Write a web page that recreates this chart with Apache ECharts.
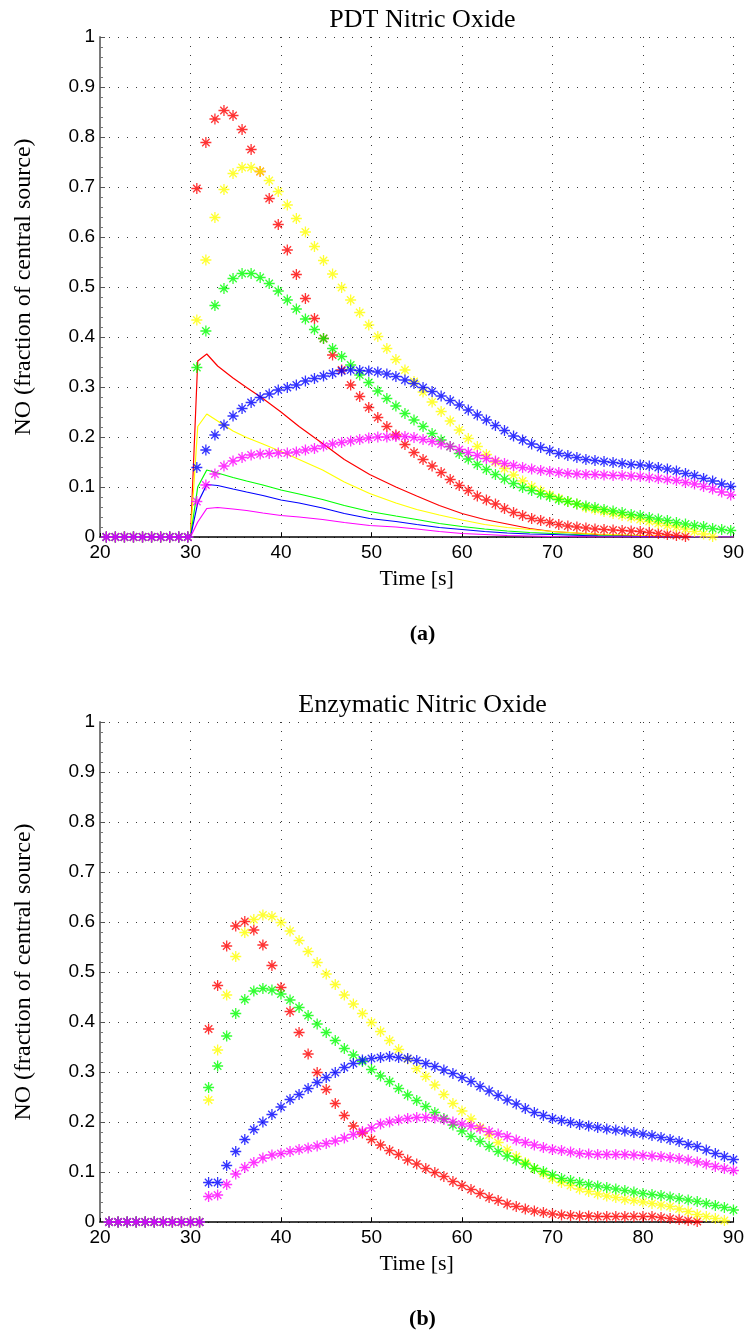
<!DOCTYPE html>
<html>
<head>
<meta charset="utf-8">
<script src="https://cdn.jsdelivr.net/npm/echarts@6/dist/echarts.min.js"></script>
<style>
  html, body { margin: 0; padding: 0; background: #ffffff; }
  #chart { width: 747px; height: 1332px; }
</style>
</head>
<body>
<div id="chart"></div>
<script>
// ---------- (a) PDT nitric oxide: sample times of the starred curves ----------
const pdtTime = [
  20.7, 21.7, 22.7, 23.7, 24.7, 25.7, 26.7, 27.7, 28.7, 29.7,
  30.7, 31.7, 32.7, 33.7, 34.7, 35.7, 36.7, 37.7, 38.7, 39.7,
  40.7, 41.7, 42.7, 43.7, 44.7, 45.7, 46.7, 47.7, 48.7, 49.7,
  50.7, 51.7, 52.7, 53.7, 54.7, 55.7, 56.7, 57.7, 58.7, 59.7,
  60.7, 61.7, 62.7, 63.7, 64.7, 65.7, 66.7, 67.7, 68.7, 69.7,
  70.7, 71.7, 72.7, 73.7, 74.7, 75.7, 76.7, 77.7, 78.7, 79.7,
  80.7, 81.7, 82.7, 83.7, 84.7, 85.7, 86.7, 87.7, 88.7, 89.7
];
const pdtRed = [
  0, 0, 0, 0, 0, 0, 0, 0, 0, 0,
  0.697, 0.789, 0.836, 0.853, 0.843, 0.815, 0.775, 0.731, 0.677, 0.625,
  0.574, 0.525, 0.477, 0.437, 0.397, 0.364, 0.334, 0.304, 0.281, 0.259,
  0.239, 0.221, 0.204, 0.185, 0.169, 0.155, 0.142, 0.129, 0.115, 0.103,
  0.093, 0.082, 0.074, 0.066, 0.057, 0.049, 0.043, 0.037, 0.033, 0.029,
  0.025, 0.022, 0.020, 0.018, 0.016, 0.015, 0.014, 0.013, 0.012, 0.011,
  0.009, 0.007, 0.005, 0.003, 0.001
];
const pdtYellow = [
  0, 0, 0, 0, 0, 0, 0, 0, 0, 0,
  0.434, 0.554, 0.639, 0.695, 0.727, 0.739, 0.739, 0.731, 0.713, 0.691,
  0.664, 0.637, 0.610, 0.581, 0.553, 0.526, 0.499, 0.474, 0.449, 0.424,
  0.401, 0.377, 0.355, 0.334, 0.311, 0.290, 0.270, 0.251, 0.232, 0.214,
  0.197, 0.181, 0.165, 0.150, 0.137, 0.124, 0.112, 0.101, 0.092, 0.084,
  0.077, 0.071, 0.066, 0.059, 0.055, 0.051, 0.047, 0.043, 0.039, 0.035,
  0.031, 0.027, 0.023, 0.020, 0.016, 0.011, 0.006, 0.001
];
const pdtGreen = [
  0, 0, 0, 0, 0, 0, 0, 0, 0, 0,
  0.339, 0.412, 0.463, 0.497, 0.517, 0.527, 0.527, 0.519, 0.507, 0.492,
  0.474, 0.456, 0.436, 0.415, 0.397, 0.377, 0.361, 0.344, 0.324, 0.309,
  0.292, 0.277, 0.262, 0.247, 0.234, 0.221, 0.207, 0.194, 0.181, 0.167,
  0.156, 0.145, 0.135, 0.125, 0.116, 0.107, 0.099, 0.093, 0.086, 0.081,
  0.075, 0.071, 0.066, 0.062, 0.059, 0.055, 0.052, 0.049, 0.045, 0.043,
  0.039, 0.036, 0.033, 0.029, 0.026, 0.023, 0.021, 0.017, 0.015, 0.013
];
const pdtBlue = [
  0, 0, 0, 0, 0, 0, 0, 0, 0, 0,
  0.139, 0.174, 0.204, 0.224, 0.242, 0.257, 0.269, 0.279, 0.286, 0.294,
  0.299, 0.304, 0.312, 0.317, 0.322, 0.327, 0.332, 0.334, 0.333, 0.332,
  0.330, 0.326, 0.321, 0.314, 0.307, 0.299, 0.291, 0.282, 0.273, 0.264,
  0.254, 0.244, 0.234, 0.223, 0.213, 0.202, 0.194, 0.186, 0.179, 0.173,
  0.167, 0.163, 0.159, 0.155, 0.153, 0.151, 0.149, 0.147, 0.145, 0.144,
  0.142, 0.139, 0.136, 0.132, 0.127, 0.123, 0.117, 0.112, 0.106, 0.101
];
const pdtMagenta = [
  0, 0, 0, 0, 0, 0, 0, 0, 0, 0,
  0.071, 0.104, 0.126, 0.142, 0.152, 0.159, 0.164, 0.166, 0.167, 0.168,
  0.168, 0.170, 0.174, 0.177, 0.182, 0.186, 0.189, 0.192, 0.195, 0.198,
  0.200, 0.200, 0.201, 0.201, 0.199, 0.195, 0.191, 0.186, 0.181, 0.175,
  0.169, 0.163, 0.157, 0.152, 0.147, 0.143, 0.139, 0.136, 0.133, 0.131,
  0.129, 0.127, 0.126, 0.125, 0.125, 0.124, 0.123, 0.123, 0.122, 0.121,
  0.119, 0.117, 0.115, 0.113, 0.109, 0.106, 0.101, 0.096, 0.090, 0.084
];

// ---------- (a) solid curves (no markers) ----------
const pdtLineTime = [30, 30.8, 31.8, 33, 34.7, 36.2, 38, 40, 42, 44.6, 47, 49.8,
                     52.7, 55, 57.5, 60, 62.5, 65, 67.5, 70, 75, 80, 85, 90];
const pdtLineRed = [0, 0.352, 0.366, 0.342, 0.318, 0.299, 0.277, 0.250, 0.221, 0.187, 0.155, 0.125,
                    0.100, 0.082, 0.063, 0.047, 0.035, 0.026, 0.017, 0.011, 0.005, 0.002, 0.001, 0];
const pdtLineYellow = [0, 0.221, 0.246, 0.232, 0.212, 0.199, 0.186, 0.171, 0.155, 0.134, 0.110, 0.087,
                       0.068, 0.055, 0.044, 0.034, 0.025, 0.019, 0.015, 0.011, 0.006, 0.003, 0.001, 0];
const pdtLineGreen = [0, 0.100, 0.134, 0.128, 0.119, 0.112, 0.104, 0.094, 0.086, 0.075, 0.063, 0.051,
                      0.042, 0.035, 0.027, 0.021, 0.016, 0.012, 0.009, 0.007, 0.003, 0.001, 0, 0];
const pdtLineBlue = [0, 0.068, 0.105, 0.103, 0.096, 0.090, 0.083, 0.074, 0.068, 0.058, 0.047, 0.037,
                     0.031, 0.025, 0.019, 0.015, 0.011, 0.008, 0.006, 0.005, 0.002, 0.001, 0, 0];
const pdtLineMagenta = [0, 0.030, 0.057, 0.059, 0.056, 0.053, 0.048, 0.043, 0.040, 0.035, 0.029, 0.023,
                        0.020, 0.016, 0.011, 0.007, 0.005, 0.003, 0.002, 0.001, 0, 0, 0, 0];

// ---------- (b) enzymatic nitric oxide ----------
const enzTime = [
  21, 22, 23, 24, 25, 26, 27, 28, 29, 30, 31,
  32, 33, 34, 35, 36, 37, 38, 39, 40, 41,
  42, 43, 44, 45, 46, 47, 48, 49, 50, 51,
  52, 53, 54, 55, 56, 57, 58, 59, 60, 61,
  62, 63, 64, 65, 66, 67, 68, 69, 70, 71,
  72, 73, 74, 75, 76, 77, 78, 79, 80, 81,
  82, 83, 84, 85, 86, 87, 88, 89, 90
];
const enzRed = [
  0, 0, 0, 0, 0, 0, 0, 0, 0, 0, 0,
  0.386, 0.473, 0.552, 0.592, 0.601, 0.584, 0.554, 0.513, 0.469, 0.421,
  0.379, 0.336, 0.299, 0.265, 0.237, 0.213, 0.192, 0.178, 0.165, 0.154,
  0.143, 0.135, 0.124, 0.116, 0.107, 0.099, 0.091, 0.081, 0.073, 0.065,
  0.057, 0.049, 0.043, 0.036, 0.031, 0.026, 0.022, 0.019, 0.016, 0.014,
  0.013, 0.012, 0.012, 0.011, 0.011, 0.011, 0.011, 0.011, 0.011, 0.011,
  0.009, 0.007, 0.005, 0.003, 0.001
];
const enzYellow = [
  0, 0, 0, 0, 0, 0, 0, 0, 0, 0, 0,
  0.244, 0.344, 0.454, 0.531, 0.579, 0.605, 0.614, 0.611, 0.599, 0.582,
  0.563, 0.541, 0.519, 0.496, 0.475, 0.454, 0.436, 0.417, 0.399, 0.381,
  0.363, 0.345, 0.326, 0.307, 0.291, 0.274, 0.255, 0.237, 0.222, 0.206,
  0.189, 0.174, 0.159, 0.144, 0.131, 0.119, 0.107, 0.097, 0.087, 0.079,
  0.073, 0.066, 0.061, 0.056, 0.052, 0.049, 0.045, 0.043, 0.040, 0.037,
  0.034, 0.031, 0.026, 0.021, 0.015, 0.011, 0.007, 0.003
];
const enzGreen = [
  0, 0, 0, 0, 0, 0, 0, 0, 0, 0, 0,
  0.269, 0.312, 0.372, 0.417, 0.445, 0.462, 0.467, 0.464, 0.456, 0.444,
  0.429, 0.413, 0.396, 0.379, 0.363, 0.347, 0.334, 0.321, 0.305, 0.292,
  0.281, 0.267, 0.254, 0.243, 0.231, 0.219, 0.207, 0.194, 0.182, 0.171,
  0.161, 0.151, 0.141, 0.132, 0.124, 0.116, 0.107, 0.101, 0.094, 0.087,
  0.083, 0.079, 0.075, 0.072, 0.069, 0.066, 0.063, 0.060, 0.057, 0.055,
  0.053, 0.050, 0.047, 0.044, 0.041, 0.037, 0.033, 0.029, 0.024
];
const enzBlue = [
  0, 0, 0, 0, 0, 0, 0, 0, 0, 0, 0,
  0.079, 0.079, 0.113, 0.141, 0.165, 0.185, 0.200, 0.215, 0.230, 0.245,
  0.255, 0.267, 0.279, 0.289, 0.299, 0.309, 0.317, 0.324, 0.327, 0.329,
  0.331, 0.329, 0.327, 0.323, 0.317, 0.311, 0.304, 0.297, 0.289, 0.281,
  0.271, 0.262, 0.253, 0.244, 0.236, 0.227, 0.219, 0.213, 0.207, 0.203,
  0.199, 0.195, 0.192, 0.189, 0.186, 0.184, 0.182, 0.179, 0.176, 0.173,
  0.169, 0.165, 0.161, 0.155, 0.151, 0.144, 0.137, 0.131, 0.125
];
const enzMagenta = [
  0, 0, 0, 0, 0, 0, 0, 0, 0, 0, 0,
  0.051, 0.054, 0.075, 0.096, 0.109, 0.119, 0.128, 0.134, 0.137, 0.141,
  0.145, 0.148, 0.152, 0.157, 0.162, 0.168, 0.175, 0.181, 0.188, 0.196,
  0.200, 0.204, 0.207, 0.209, 0.209, 0.208, 0.205, 0.200, 0.196, 0.192,
  0.187, 0.181, 0.176, 0.171, 0.164, 0.159, 0.154, 0.149, 0.145, 0.143,
  0.140, 0.137, 0.136, 0.135, 0.135, 0.135, 0.135, 0.134, 0.133, 0.132,
  0.131, 0.129, 0.127, 0.124, 0.120, 0.116, 0.111, 0.107, 0.103
];

// ---------- axis ticks and labels ----------
const timeTicks = { min: 20, max: 90, step: 10 };
const noTicks = { min: 0, max: 1, step: 0.1 };
const panelTitles = ['PDT Nitric Oxide', 'Enzymatic Nitric Oxide'];
const panelTags = ['(a)', '(b)'];
const xName = 'Time [s]';
const yName = 'NO (fraction of central source)';

// ---------- styling ----------
const COLORS = { red: '#ff0000', yellow: '#ffff00', green: '#00ff00', blue: '#0000ff', magenta: '#ff00ff' };
// asterisk marker: vertical, horizontal and two diagonal strokes
const STAR = 'path://M5,0L5,10M0,5L10,5M1.6,1.6L8.4,8.4M1.6,8.4L8.4,1.6';
const SERIF = '"Liberation Serif", "DejaVu Serif", serif';
const SANS = '"Liberation Sans", Arial, Helvetica, sans-serif';
const PLOT_LEFT = 100, PLOT_RIGHT = 12, PLOT_H = 500;
const PANEL_TOP = [37, 722];
const PLOT_CX = PLOT_LEFT + (747 - PLOT_LEFT - PLOT_RIGHT) / 2;

function zip(xs, ys) {
  const out = [];
  const n = Math.min(xs.length, ys.length);
  for (let i = 0; i < n; i++) out.push([xs[i], ys[i]]);
  return out;
}

function starSeries(idx, xs, ys, color) {
  return {
    type: 'scatter', xAxisIndex: idx, yAxisIndex: idx,
    data: zip(xs, ys),
    symbol: STAR, symbolSize: 11,
    itemStyle: { color: 'rgba(0,0,0,0)', borderColor: color, borderWidth: 1.3 },
    silent: true, animation: false, z: 3
  };
}

function curveSeries(idx, xs, ys, color) {
  return {
    type: 'line', xAxisIndex: idx, yAxisIndex: idx,
    data: zip(xs, ys),
    showSymbol: false, symbol: 'none', smooth: false,
    lineStyle: { color: color, width: 1.2 },
    silent: true, animation: false, z: 2
  };
}

const gridLine = { show: true, lineStyle: { color: '#3a3a3a', width: 1, type: [1, 8] } };

function xAxis(idx) {
  return {
    type: 'value', gridIndex: idx,
    min: timeTicks.min, max: timeTicks.max, interval: timeTicks.step,
    axisLine: { show: true, onZero: false, lineStyle: { color: '#000', width: 1.5 } },
    axisTick: { show: true, inside: true, length: 4, lineStyle: { color: '#000' } },
    axisLabel: { fontFamily: SANS, fontSize: 19, color: '#000', margin: 6 },
    splitLine: gridLine,
    name: xName, nameLocation: 'middle', nameGap: 31,
    nameTextStyle: { fontFamily: SERIF, fontSize: 22, color: '#000' }
  };
}

function yAxis(idx) {
  return {
    type: 'value', gridIndex: idx,
    min: noTicks.min, max: noTicks.max, interval: noTicks.step,
    axisLine: { show: true, onZero: false, lineStyle: { color: '#7a7a7a', width: 2 } },
    axisTick: { show: true, inside: true, length: 5, lineStyle: { color: '#555' } },
    minorTick: { show: true, splitNumber: 5, length: 3, lineStyle: { color: '#777' } },
    axisLabel: { fontFamily: SANS, fontSize: 19, color: '#000', margin: 5 },
    splitLine: gridLine,
    name: yName, nameLocation: 'middle', nameGap: 64,
    nameTextStyle: { fontFamily: SERIF, fontSize: 24, color: '#000' }
  };
}

const series = [
  curveSeries(0, pdtLineTime, pdtLineRed, COLORS.red),
  curveSeries(0, pdtLineTime, pdtLineYellow, COLORS.yellow),
  curveSeries(0, pdtLineTime, pdtLineGreen, COLORS.green),
  curveSeries(0, pdtLineTime, pdtLineBlue, COLORS.blue),
  curveSeries(0, pdtLineTime, pdtLineMagenta, COLORS.magenta),
  starSeries(0, pdtTime, pdtRed, COLORS.red),
  starSeries(0, pdtTime, pdtYellow, COLORS.yellow),
  starSeries(0, pdtTime, pdtGreen, COLORS.green),
  starSeries(0, pdtTime, pdtBlue, COLORS.blue),
  starSeries(0, pdtTime, pdtMagenta, COLORS.magenta),
  starSeries(1, enzTime, enzRed, COLORS.red),
  starSeries(1, enzTime, enzYellow, COLORS.yellow),
  starSeries(1, enzTime, enzGreen, COLORS.green),
  starSeries(1, enzTime, enzBlue, COLORS.blue),
  starSeries(1, enzTime, enzMagenta, COLORS.magenta)
];

const chart = echarts.init(document.getElementById('chart'), null, { renderer: 'canvas' });
chart.setOption({
  backgroundColor: '#ffffff',
  animation: false,
  title: [
    { text: panelTitles[0], left: PLOT_CX, top: 2, textAlign: 'center',
      textStyle: { fontFamily: SERIF, fontSize: 26, fontWeight: 'normal', color: '#000' } },
    { text: panelTags[0], left: PLOT_CX, top: 618, textAlign: 'center',
      textStyle: { fontFamily: SERIF, fontSize: 22, fontWeight: 'bold', color: '#000' } },
    { text: panelTitles[1], left: PLOT_CX, top: 687, textAlign: 'center',
      textStyle: { fontFamily: SERIF, fontSize: 26, fontWeight: 'normal', color: '#000' } },
    { text: panelTags[1], left: PLOT_CX, top: 1303, textAlign: 'center',
      textStyle: { fontFamily: SERIF, fontSize: 22, fontWeight: 'bold', color: '#000' } }
  ],
  grid: PANEL_TOP.map(t => ({ left: PLOT_LEFT, right: PLOT_RIGHT, top: t, height: PLOT_H, containLabel: false })),
  xAxis: [xAxis(0), xAxis(1)],
  yAxis: [yAxis(0), yAxis(1)],
  series: series
});
</script>
</body>
</html>
